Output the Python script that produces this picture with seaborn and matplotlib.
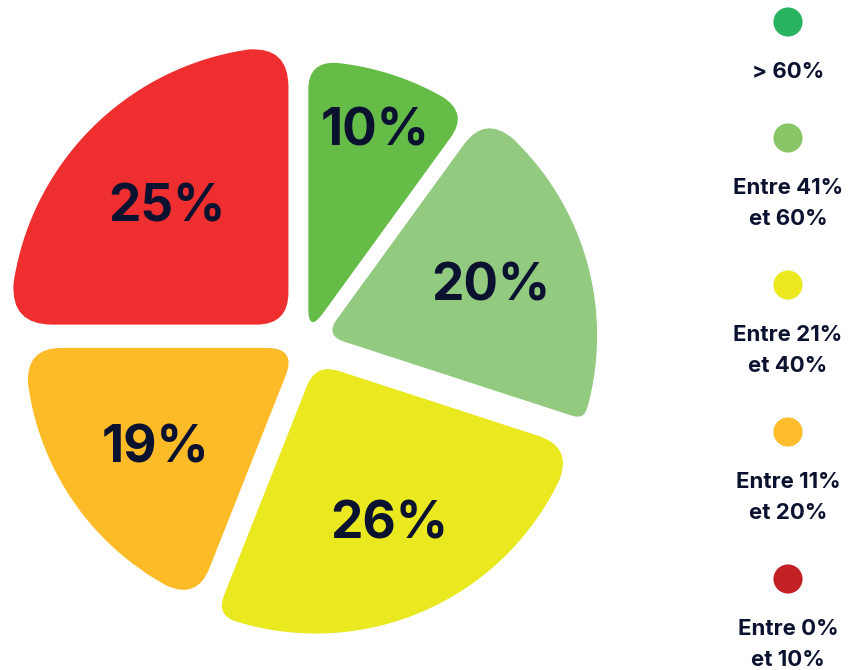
import numpy as np
import matplotlib
matplotlib.use("Agg")
import matplotlib.pyplot as plt
from matplotlib.path import Path
from matplotlib.patches import PathPatch
import seaborn as sns

# Share of each band (clockwise from the left horizontal)
shares = [25, 10, 20, 26, 19]
share_labels = [f"{v}%" for v in shares]
slice_colors = ["#EE2E2F", "#65BC47", "#92CB80", "#EAE81F", "#FDBB28"]

# Legend entries, top to bottom
legend_labels = ["> 60%", "Entre 41%\net 60%", "Entre 21%\net 40%",
                 "Entre 11%\net 20%", "Entre 0%\net 10%"]
legend_colors = ["#27B35F", "#88C665", "#EBE81F", "#FDBC2A", "#C32025"]

TEXT = "#0B1230"

sns.set_theme(style="white")
plt.rcParams["font.family"] = ["Inter", "DejaVu Sans"]

W, H = 852, 670
fig = plt.figure(figsize=(W / 100, H / 100), dpi=100)
ax = fig.add_axes([0, 0, 1, 1])
ax.set_xlim(0, W)
ax.set_ylim(H, 0)
ax.set_aspect("equal")
ax.axis("off")

# pie layout (pixel space, y pointing down)
center = np.array([305.6, 341.8])
explode = [24.3, 8.8, 20.5, 24.0, 10.8]
radii = [278, 272, 272, 270, 271]
apex_cut = [32, 25, 20, 24, 30]
corner_cut = [(42, 40), (28, 30), (36, 12), (36, 20), (34, 36)]
label_frac = [0.62, 0.80, 0.64, 0.64, 0.63]


def unit(deg):
    r = np.deg2rad(deg)
    return np.array([np.cos(r), -np.sin(r)])


def rounded_wedge(apex, R, a1, a2, cut_a, cut_1, cut_2):
    """Wedge from angle a1 clockwise to a2, with softened corners."""
    u1, u2 = unit(a1), unit(a2)
    p1, p2 = apex + R * u1, apex + R * u2
    verts, codes = [], []
    s = apex + cut_a * u1
    verts.append(s); codes.append(Path.MOVETO)
    verts.append(p1 - cut_1 * u1); codes.append(Path.LINETO)
    b1 = a1 - np.rad2deg(cut_1 / R)
    b2 = a2 + np.rad2deg(cut_2 / R)
    verts += [p1, apex + R * unit(b1)]; codes += [Path.CURVE3, Path.CURVE3]
    for a in np.linspace(b1, b2, 120)[1:]:
        verts.append(apex + R * unit(a)); codes.append(Path.LINETO)
    verts += [p2, p2 - cut_2 * u2]; codes += [Path.CURVE3, Path.CURVE3]
    verts.append(apex + cut_a * u2); codes.append(Path.LINETO)
    verts += [apex, s]; codes += [Path.CURVE3, Path.CURVE3]
    verts.append(s); codes.append(Path.CLOSEPOLY)
    return Path(np.array(verts), codes)


start = 180.0
for i, v in enumerate(shares):
    sweep = v / sum(shares) * 360.0
    a1, a2 = start, start - sweep
    mid = (a1 + a2) / 2
    apex = center + explode[i] * unit(mid)
    path = rounded_wedge(apex, radii[i], a1, a2, apex_cut[i], *corner_cut[i])
    ax.add_patch(PathPatch(path, facecolor=slice_colors[i], edgecolor="none"))
    lx, ly = apex + label_frac[i] * radii[i] * unit(mid)
    ax.text(lx, ly, share_labels[i], ha="center", va="center_baseline",
            fontsize=37, fontweight="bold", color=TEXT)
    start = a2

# legend column
lx = 788
y = 22
for lab, col in zip(legend_labels, legend_colors):
    ax.scatter([lx], [y], s=440, color=col, edgecolors="none")
    lines = lab.split("\n")
    ty = y + 48
    for ln in lines:
        ax.text(lx, ty, ln, ha="center", va="center_baseline",
                fontsize=16, fontweight="bold", color=TEXT)
        last = ty
        ty += 31
    y = last + 68

fig.savefig("out.png", dpi=100, facecolor="white")
